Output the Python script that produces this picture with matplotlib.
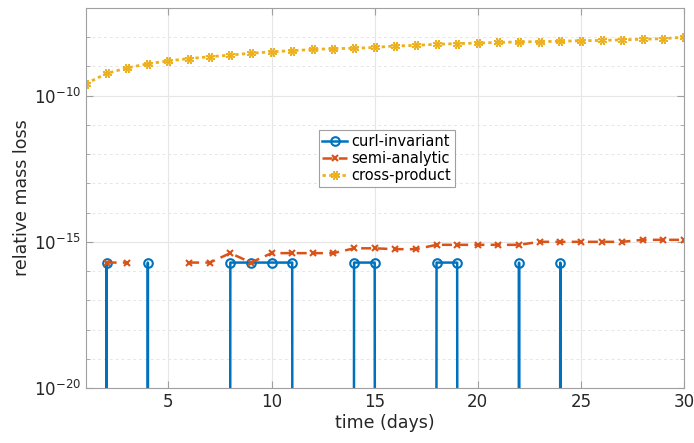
import numpy as np
import matplotlib
matplotlib.use("Agg")
import matplotlib.pyplot as plt
from matplotlib.ticker import LogLocator, NullFormatter, FixedLocator

days = np.arange(1, 31)

# curl-invariant: zero on most days, roughly one ulp-level error on the rest
curl_invariant = np.array([0, 1.95e-16, 0, 1.95e-16, 0, 0, 0, 1.95e-16, 1.95e-16, 1.95e-16,
                           1.95e-16, 0, 0, 1.95e-16, 1.95e-16, 0, 0, 1.95e-16, 1.95e-16, 0,
                           0, 1.95e-16, 0, 1.95e-16, 0, 0, 0, 0, 0, 0])

# semi-analytic: nan where the original leaves a gap
semi_analytic = np.array([np.nan, 1.95e-16, 1.95e-16, np.nan, np.nan, 1.95e-16, 1.95e-16, 4.1e-16, 1.95e-16, 4.1e-16,
                          4.1e-16, 4.1e-16, 4.1e-16, 6.0e-16, 6.0e-16, 5.6e-16, 5.6e-16, 7.9e-16, 7.9e-16, 7.9e-16,
                          7.9e-16, 7.9e-16, 1.0e-15, 1.0e-15, 1.0e-15, 1.0e-15, 1.0e-15, 1.17e-15, 1.17e-15, 1.17e-15])

cross_product_log = np.array([-9.59, -9.24, -9.05, -8.91, -8.81, -8.73, -8.67, -8.61, -8.55, -8.50,
                              -8.46, -8.42, -8.39, -8.38, -8.35, -8.30, -8.28, -8.24, -8.22, -8.20,
                              -8.18, -8.16, -8.15, -8.14, -8.12, -8.11, -8.09, -8.07, -8.05, -8.00])
cross_product = 10.0 ** cross_product_log

blue = '#0072BD'
orange = '#D95319'
yellow = '#EDB120'

plt.rcParams['font.family'] = ['DejaVu Sans']

fig = plt.figure(figsize=(6.94, 4.43), dpi=100)
ax = fig.add_axes([0.1239, 0.1242, 0.8617, 0.8578])

ax.plot(days, curl_invariant, '-', color=blue, marker='o', markersize=6.2,
        markerfacecolor='none', markeredgewidth=1.5, linewidth=1.8, label='curl-invariant')
ax.plot(days, semi_analytic, color=orange, linestyle=(0, (4, 2.5)), marker='x', markersize=5,
        markeredgewidth=1.5, linewidth=1.8, label='semi-analytic')
ax.plot(days, cross_product, color=yellow, linestyle=(0, (1.2, 1.2)), marker=(8, 2, 22.5), markersize=6.5,
        markeredgewidth=1.1, linewidth=2.0, label='cross-product')

ax.set_yscale('log', nonpositive='clip')
ax.set_xlim(1, 30)
ax.set_ylim(1e-20, 1e-7)

ax.xaxis.set_major_locator(FixedLocator([5, 10, 15, 20, 25, 30]))
ax.yaxis.set_major_locator(FixedLocator([1e-20, 1e-15, 1e-10]))
ax.yaxis.set_minor_locator(LogLocator(base=10, subs=(1.0,), numticks=30))
ax.yaxis.set_minor_formatter(NullFormatter())

ax.grid(True, which='major', color='#e6e6e6', linewidth=0.8)
ax.grid(True, which='minor', axis='y', color='#e6e6e6', linestyle=(0, (3, 3)), linewidth=0.7)
ax.set_axisbelow(True)

ax.tick_params(which='both', direction='in', top=True, right=True, colors='#a0a0a0',
               labelcolor='#262626', labelsize=12)
ax.tick_params(which='major', length=5)
ax.tick_params(which='minor', length=3)
for s in ax.spines.values():
    s.set_color('#a0a0a0')
    s.set_linewidth(0.8)

ax.set_xlabel('time (days)', fontsize=12.5, color='#262626', labelpad=2)
ax.set_ylabel('relative mass loss', fontsize=12.5, color='#262626', labelpad=2)

leg = ax.legend(loc='center', bbox_to_anchor=(0.503, 0.604), fontsize=10.5,
                handlelength=1.7, handletextpad=0.3, borderpad=0.25, labelspacing=0.15,
                fancybox=False, framealpha=1, edgecolor='#a0a0a0')
leg.get_frame().set_linewidth(0.8)

fig.savefig('out.png', dpi=100)
